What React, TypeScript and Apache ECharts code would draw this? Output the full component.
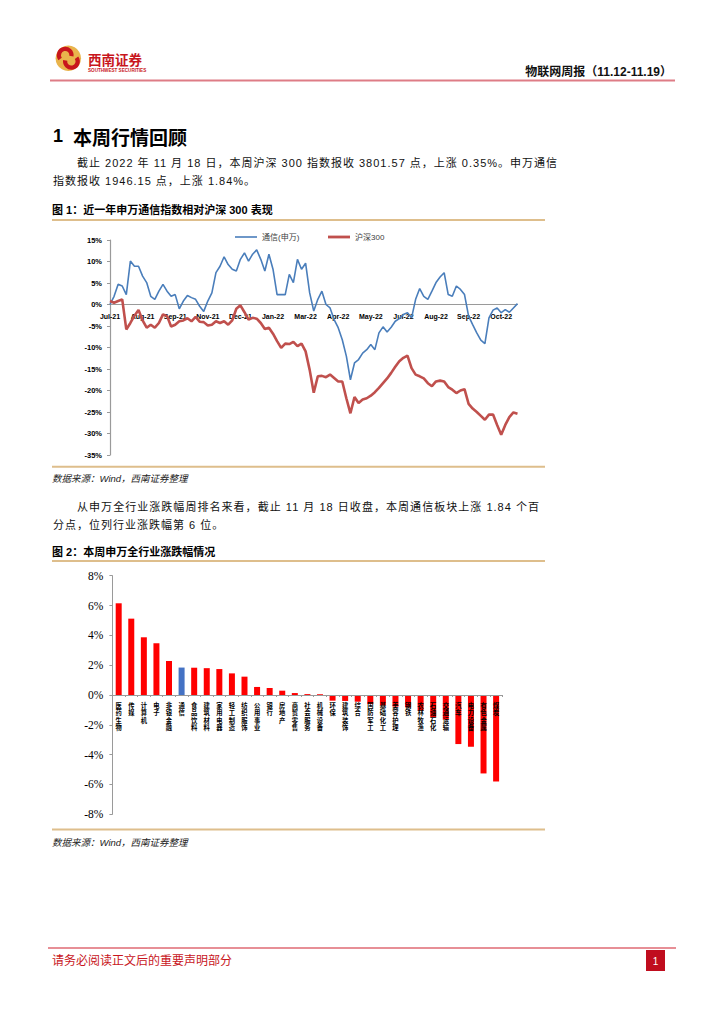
import React, { useEffect, useRef } from "react";
import * as echarts from "echarts";

// ---------- Figure 1 data (relative performance, %) ----------
const lineTickLabels = ["Jul-21", "Aug-21", "Sep-21", "Nov-21", "Dec-21", "Jan-22", "Mar-22", "Apr-22", "May-22", "Jul-22", "Aug-22", "Sep-22", "Oct-22"];
const pointsPerTick = 8;
const telecomSeriesName = "通信(申万)";
const csiSeriesName = "沪深300";
const telecomIndex = [
  0, 1.9, 4.7, 4.3, 2.3, 10.1, 8.9, 8.9, 6.6, 5.1,
  1.9, 1.2, 3.1, 4.7, 3.1, 1.9, 2.3, -1.0, 0.8, 2.1,
  1.6, 1.2, -0.4, -1.6, 0.8, 2.7, 7.4, 8.9, 11.1, 9.3,
  8.2, 7.8, 10.5, 12.0, 10.1, 11.7, 12.7, 10.5, 7.8, 11.7,
  8.2, 2.3, 2.3, 2.3, 7.0, 5.1, 10.5, 8.2, 9.6, 2.7,
  -1.5, 1.2, 3.1, 0.0, -0.8, -3.5, -5.4, -8.2, -12.0, -17.5,
  -13.6, -12.8, -11.3, -10.5, -9.3, -10.5, -6.6, -5.2, -6.4, -5.3,
  -3.9, -3.3, -2.3, -1.9, -3.1, 1.2, 3.7, 1.9, 1.2, 3.1,
  5.1, 6.4, 7.4, 2.3, 1.9, 4.3, 3.5, 2.3, -2.7, -4.7,
  -6.6, -8.3, -9.1, -3.1, -1.3, -0.8, -1.9, -1.2, -1.8, -0.8,
  0.2,
];
const csi300 = [
  0.8, 0.4, 0.8, 1.2, -5.8, -4.3, -2.6, -1.3, -3.7, -5.4,
  -4.7, -5.4, -4.3, -2.3, -2.7, -5.1, -4.7, -3.9, -3.7, -3.2,
  -3.9, -2.9, -4.0, -4.1, -4.9, -4.7, -3.9, -4.3, -3.9, -4.7,
  -3.7, -1.0, -0.2, -1.8, -3.5, -3.1, -3.3, -4.3, -5.7, -5.4,
  -6.8, -8.5, -10.1, -9.1, -9.2, -8.7, -9.7, -9.1, -10.9, -15.2,
  -20.5, -16.7, -16.6, -16.9, -16.3, -17.1, -17.9, -17.9, -21.8, -25.3,
  -21.5, -22.9, -22.1, -21.8, -21.2, -20.4, -19.4, -18.3, -17.2, -15.9,
  -14.5, -13.2, -12.4, -11.9, -14.8, -16.3, -16.7, -17.2, -18.3, -19.0,
  -17.9, -17.7, -17.9, -19.2, -19.8, -20.6, -20.0, -19.7, -23.1, -24.2,
  -25.0, -25.9, -26.8, -25.6, -25.6, -28.0, -30.3, -28.0, -26.2, -25.1,
  -25.4,
];
const lineYTicks = { min: -35, max: 15, interval: 5 };

// ---------- Figure 2 data (weekly change by industry, %) ----------
const industries = ["医药生物", "传媒", "计算机", "电子", "非银金融", "通信", "食品饮料", "建筑材料", "家用电器", "轻工制造", "纺织服饰", "公用事业", "银行", "房地产", "商贸零售", "社会服务", "机械设备", "环保", "建筑装饰", "综合", "国防军工", "基础化工", "美容护理", "钢铁", "农林牧渔", "石油石化", "交通运输", "汽车", "电力设备", "有色金属", "煤炭"];
const weeklyChange = [6.15, 5.12, 3.87, 3.47, 2.28, 1.84, 1.83, 1.8, 1.74, 1.45, 1.23, 0.54, 0.47, 0.29, 0.13, 0.06, 0.05, -0.38, -0.4, -0.45, -0.6, -0.7, -0.78, -0.83, -1.05, -1.5, -1.65, -3.29, -3.47, -5.26, -5.8];
const highlightIndustry = "通信";
const barYTicks = { min: -8, max: 8, interval: 2 };

// ---------- Page texts ----------
const para1 = ["截止 2022 年 11 月 18 日，本周沪深 300 指数报收 3801.57 点，上涨 0.35%。申万通信", "指数报收 1946.15 点，上涨 1.84%。"];
const para2 = ["从申万全行业涨跌幅周排名来看，截止 11 月 18 日收盘，本周通信板块上涨 1.84 个百", "分点，位列行业涨跌幅第 6 位。"];

const CJK = "Noto Sans CJK SC";
const MIX = "Liberation Sans, Noto Sans CJK SC";

// grid geometry
const g1 = { left: 110, top: 240, width: 407.5, height: 215 };
const g2 = { left: 112.4, top: 575.7, width: 390, height: 238.6 };

export default function App() {
  const ref = useRef<HTMLDivElement>(null);

  useEffect(() => {
    if (!ref.current) return;
    const chart = echarts.init(ref.current, null, { renderer: "svg" });
    const categories = telecomIndex.map((_, i) => String(i));
    const tan = "#DEBE8C";
    const red = "#C8161D";
    const zeroOffset1 = (g1.height * (0 - lineYTicks.min)) / (lineYTicks.max - lineYTicks.min);
    const zeroOffset2 = (g2.height * (0 - barYTicks.min)) / (barYTicks.max - barYTicks.min);

    const graphics: any[] = [
      { type: "line", shape: { x1: 50, y1: 80.5, x2: 675, y2: 80.5 }, style: { stroke: "#DE7C86", lineWidth: 2 } },
      { type: "circle", shape: { cx: 68.3, cy: 58.3, r: 12.7 }, style: { fill: "#E9B44C" } },
      { type: "arc", shape: { cx: 65.2, cy: 55.2, r: 6.3, startAngle: Math.PI * 0.8, endAngle: Math.PI * 2.05 }, style: { stroke: red, lineWidth: 4.2, fill: "none" } },
      { type: "arc", shape: { cx: 71.4, cy: 61.4, r: 6.3, startAngle: -Math.PI * 0.2, endAngle: Math.PI * 1.05 }, style: { stroke: red, lineWidth: 4.2, fill: "none" } },
      { type: "text", x: 88, y: 58.5, style: { text: "西南证券", fontSize: 13.5, fontWeight: "bold", fill: red, fontFamily: CJK, verticalAlign: "middle" } },
      { type: "text", x: 88, y: 70.8, style: { text: "SOUTHWEST SECURITIES", fontSize: 4.6, fontWeight: "bold", fill: red, fontFamily: "Liberation Sans", verticalAlign: "middle" } },
      { type: "text", x: 672, y: 71.5, style: { text: "物联网周报（11.12-11.19）", fontSize: 12, fontWeight: "bold", fill: "#111", fontFamily: MIX, align: "right", verticalAlign: "middle" } },
      { type: "text", x: 53, y: 136, style: { text: "1", fontSize: 18, fontWeight: "bold", fill: "#000", fontFamily: "Liberation Sans", verticalAlign: "middle" } },
      { type: "text", x: 73, y: 136, style: { text: "本周行情回顾", fontSize: 19, fontWeight: "bold", fill: "#000", fontFamily: CJK, verticalAlign: "middle" } },
      { type: "text", x: 52, y: 210, style: { text: "图 1：近一年申万通信指数相对沪深 300 表现", fontSize: 11, fontWeight: "bold", fill: "#000", fontFamily: MIX, verticalAlign: "middle" } },
      { type: "line", shape: { x1: 52, y1: 220, x2: 545, y2: 220 }, style: { stroke: tan, lineWidth: 2 } },
      { type: "line", shape: { x1: 52, y1: 466.7, x2: 545, y2: 466.7 }, style: { stroke: tan, lineWidth: 2 } },
      { type: "text", x: 52, y: 478.3, style: { text: "数据来源：Wind，西南证券整理", fontSize: 9.5, fontStyle: "italic", fill: "#222", fontFamily: MIX, verticalAlign: "middle" } },
      { type: "text", x: 52, y: 552.3, style: { text: "图 2：本周申万全行业涨跌幅情况", fontSize: 11, fontWeight: "bold", fill: "#000", fontFamily: MIX, verticalAlign: "middle" } },
      { type: "line", shape: { x1: 52, y1: 561, x2: 545, y2: 561 }, style: { stroke: tan, lineWidth: 2 } },
      { type: "line", shape: { x1: 52, y1: 829.5, x2: 545, y2: 829.5 }, style: { stroke: tan, lineWidth: 2 } },
      { type: "text", x: 52, y: 842, style: { text: "数据来源：Wind，西南证券整理", fontSize: 9.5, fontStyle: "italic", fill: "#222", fontFamily: MIX, verticalAlign: "middle" } },
      { type: "line", shape: { x1: 48, y1: 948, x2: 676, y2: 948 }, style: { stroke: "#D0202E", lineWidth: 1.2 } },
      { type: "text", x: 52, y: 959.5, style: { text: "请务必阅读正文后的重要声明部分", fontSize: 12, fill: red, fontFamily: CJK, verticalAlign: "middle" } },
      { type: "rect", shape: { x: 646, y: 950, width: 19, height: 21 }, style: { fill: "#C00D1E" } },
      { type: "text", x: 655.5, y: 961, style: { text: "1", fontSize: 10, fill: "#fff", fontFamily: "Liberation Sans", align: "center", verticalAlign: "middle" } },
    ];

    const legendText = { fontSize: 8, color: "#404040", fontFamily: MIX };

    chart.setOption({
      animation: false,
      backgroundColor: "#fff",
      graphic: graphics,
      legend: [
        { top: 228, left: 230, itemWidth: 22, itemHeight: 1.6, icon: "rect", selectedMode: false, textStyle: legendText, data: [telecomSeriesName] },
        { top: 228, left: 323, itemWidth: 22, itemHeight: 2.8, icon: "rect", selectedMode: false, textStyle: legendText, data: [csiSeriesName] },
      ],
      grid: [g1, g2],
      xAxis: [
        {
          type: "category",
          gridIndex: 0,
          data: categories,
          boundaryGap: false,
          position: "bottom",
          offset: -zeroOffset1,
          axisLine: { onZero: false, lineStyle: { color: "#9A9A9A", width: 1 } },
          axisTick: { show: false },
          axisLabel: {
            interval: pointsPerTick - 1,
            margin: 8,
            fontSize: 7,
            fontWeight: "bold",
            color: "#000",
            fontFamily: "Liberation Sans",
            formatter: (_v: string, i: number) => lineTickLabels[Math.round(i / pointsPerTick)] || "",
          },
          splitLine: { show: false },
        },
        {
          type: "category",
          gridIndex: 1,
          data: industries,
          z: 10,
          position: "bottom",
          offset: -zeroOffset2,
          axisLine: { onZero: false, lineStyle: { color: "#9A9A9A", width: 1 } },
          axisTick: { show: true, length: 2, lineStyle: { color: "#9A9A9A" } },
          axisLabel: {
            interval: 0,
            margin: 7,
            fontSize: 6.3,
            lineHeight: 7.2,
            width: 8,
            overflow: "break",
            hideOverlap: false,
            fontWeight: "bold",
            color: "#000",
            fontFamily: CJK,
            align: "center",
            verticalAlign: "top",
            formatter: (v: string) => v.split("").join("\n"),
          },
        },
      ],
      yAxis: [
        {
          type: "value",
          gridIndex: 0,
          min: lineYTicks.min,
          max: lineYTicks.max,
          interval: lineYTicks.interval,
          axisLine: { show: true, lineStyle: { color: "#9A9A9A", width: 1.2 } },
          axisTick: { show: true, length: 3, lineStyle: { color: "#9A9A9A" } },
          splitLine: { show: false },
          axisLabel: { formatter: "{value}%", fontSize: 7.5, fontWeight: "bold", color: "#000", fontFamily: "Liberation Sans", margin: 8 },
        },
        {
          type: "value",
          gridIndex: 1,
          min: barYTicks.min,
          max: barYTicks.max,
          interval: barYTicks.interval,
          axisLine: { show: true, lineStyle: { color: "#9A9A9A", width: 1 } },
          axisTick: { show: true, length: 3, lineStyle: { color: "#9A9A9A" } },
          splitLine: { show: false },
          axisLabel: { formatter: "{value}%", fontSize: 11.5, color: "#000", fontFamily: "Liberation Serif", margin: 9 },
        },
      ],
      series: [
        {
          name: telecomSeriesName,
          type: "line",
          xAxisIndex: 0,
          yAxisIndex: 0,
          data: telecomIndex,
          symbol: "none",
          lineStyle: { color: "#4A7EBB", width: 1.6 },
          itemStyle: { color: "#4A7EBB" },
        },
        {
          name: csiSeriesName,
          type: "line",
          xAxisIndex: 0,
          yAxisIndex: 0,
          data: csi300,
          symbol: "none",
          lineStyle: { color: "#C0504D", width: 2.6 },
          itemStyle: { color: "#C0504D" },
        },
        {
          name: "涨跌幅",
          type: "bar",
          xAxisIndex: 1,
          yAxisIndex: 1,
          data: weeklyChange,
          barWidth: 6,
          itemStyle: {
            color: (p: any) => (p.name === highlightIndustry ? "#4472C4" : "#FF0000"),
          },
        },
      ],
    });
    return () => chart.dispose();
  }, []);

  const base: React.CSSProperties = {
    position: "absolute",
    fontSize: 11,
    lineHeight: "18px",
    height: 18,
    whiteSpace: "nowrap",
    color: "#111",
    fontFamily: '"Liberation Sans", "Noto Sans CJK SC", sans-serif',
  };
  const full: React.CSSProperties = { ...base, textAlign: "justify", textAlignLast: "justify" as any, letterSpacing: "1px" };
  const tail: React.CSSProperties = { ...base, letterSpacing: "1px" };

  return (
    <div style={{ position: "fixed", left: 0, top: 0, width: 724, height: 1024, background: "#fff", overflow: "hidden" }}>
      <div ref={ref} style={{ position: "absolute", left: 0, top: 0, width: 724, height: 1024 }} />
      <div lang="zh-CN" style={{ ...full, left: 77, top: 154.3, width: 461 }}>{para1[0]}</div>
      <div lang="zh-CN" style={{ ...tail, left: 53, top: 172 }}>{para1[1]}</div>
      <div lang="zh-CN" style={{ ...full, left: 77, top: 497.7, width: 463 }}>{para2[0]}</div>
      <div lang="zh-CN" style={{ ...tail, left: 53, top: 516 }}>{para2[1]}</div>
    </div>
  );
}
